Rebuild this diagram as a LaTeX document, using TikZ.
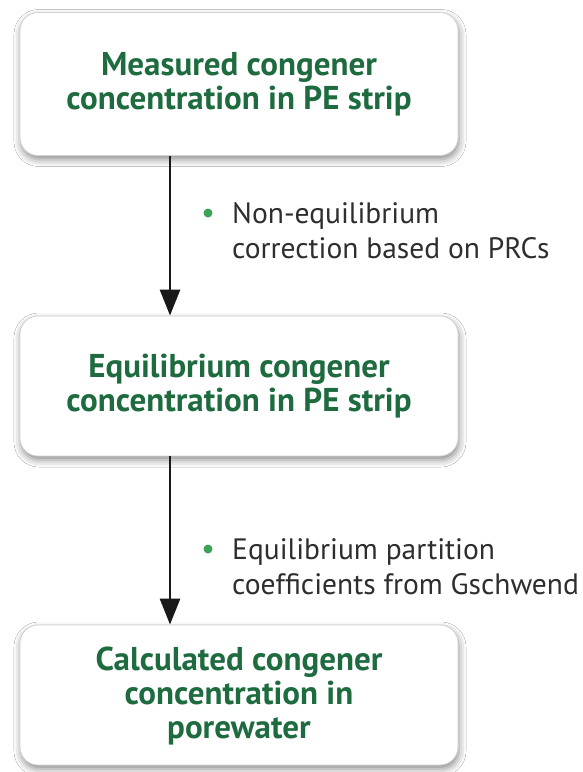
\documentclass[tikz,border=0pt]{standalone}
\usepackage{fontspec}
\setmainfont{PT Sans}
\usetikzlibrary{arrows.meta,shadows.blur}
\definecolor{titlegreen}{HTML}{1D6B3F}
\definecolor{dotgreen}{HTML}{3DA35A}
\definecolor{bodygray}{HTML}{2E2E2E}
\tikzset{
  stepbox/.style={draw=black!18, line width=0.8pt, fill=white, rounded corners=18pt,
    minimum width=438pt, minimum height=143pt, align=center,
    text=titlegreen, font=\bfseries\fontsize{33}{34}\selectfont,
    blur shadow={shadow xshift=1pt, shadow yshift=-4pt, shadow blur radius=7pt, shadow opacity=45}},
  flow/.style={draw=black!90, line width=2.6pt, -{Triangle[width=20pt,length=26pt]}},
  bulletdot/.style={circle, fill=dotgreen, inner sep=0pt, minimum size=9pt},
  note/.style={anchor=west, align=left, text=bodygray, inner sep=0pt,
    font=\fontsize{29.5}{35}\selectfont}
}
\begin{document}
\begin{tikzpicture}[x=1pt, y=-1pt]
  \useasboundingbox[fill=white] (0,0) rectangle (582,772);
  % process steps
  \node[stepbox] (b1) at (239,84) {Measured congener\\concentration in PE strip};
  \node[stepbox, minimum height=140pt] (b2) at (239,386) {Equilibrium congener\\concentration in PE strip};
  \node[stepbox, minimum height=140pt, text depth=4pt] (b3) at (239,695) {Calculated congener\\concentration in\\porewater};
  % arrow axis
  \coordinate (ax) at (170,0);
  \draw[flow] (b1.south -| ax) -- (b2.north -| ax);
  \draw[flow] (b2.south -| ax) -- (b3.north -| ax);
  % annotations
  \node[bulletdot] (d1) at (208,213) {};
  \node[note] (n1) at (232,231) {Non-equilibrium\\correction based on PRCs};
  \node[bulletdot] (d2) at (208,549) {};
  \node[note] (n2) at (232,567) {Equilibrium partition\\coefficients from Gschwend};
\end{tikzpicture}
\end{document}
